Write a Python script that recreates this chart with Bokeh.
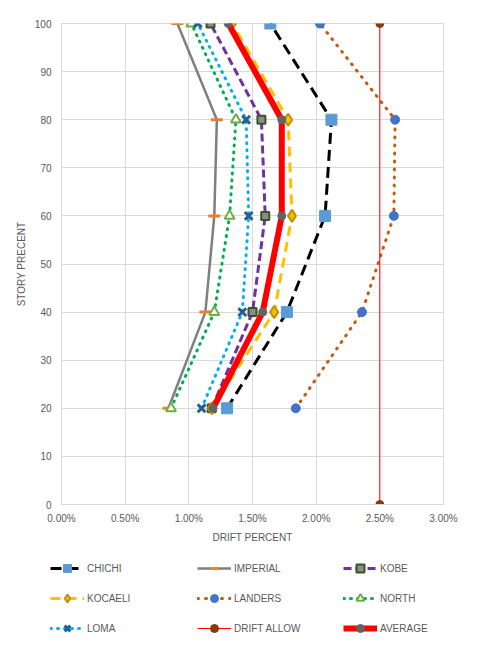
from bokeh.plotting import figure
from bokeh.layouts import column
from bokeh.models import Legend, LegendItem, PrintfTickFormatter, FixedTicker
from bokeh.embed import file_html
from bokeh.resources import INLINE

# ---- data ----
story = [20, 40, 60, 80, 100]
chichi = [1.30, 1.77, 2.07, 2.12, 1.64]
imperial = [0.84, 1.13, 1.20, 1.22, 0.91]
kobe = [1.18, 1.50, 1.60, 1.57, 1.17]
kocaeli = [1.18, 1.67, 1.81, 1.78, 1.34]
landers = [1.84, 2.36, 2.61, 2.62, 2.03]
north = [0.86, 1.20, 1.32, 1.37, 1.02]
loma = [1.10, 1.42, 1.47, 1.45, 1.07]
drift_story = [0, 100]
drift_allow = [2.5, 2.5]
average = [1.19, 1.58, 1.73, 1.73, 1.31]

x_ticks = [0.0, 0.5, 1.0, 1.5, 2.0, 2.5, 3.0]
y_ticks = [0, 10, 20, 30, 40, 50, 60, 70, 80, 90, 100]

FONT = "Liberation Sans"
TXT = "#595959"
GRID = "#d9d9d9"

p = figure(width=463, height=546, x_range=(0, 3), y_range=(0, 100),
           output_backend="svg", toolbar_location=None, frame_align=False,
           min_border_left=61, min_border_right=20, min_border_top=23, min_border_bottom=42)
p.outline_line_color = GRID
p.xgrid.grid_line_color = GRID
p.ygrid.grid_line_color = GRID
p.xaxis.ticker = FixedTicker(ticks=x_ticks)
p.yaxis.ticker = FixedTicker(ticks=y_ticks)
p.xaxis.formatter = PrintfTickFormatter(format="%.2f%%")
for ax in (p.xaxis[0], p.yaxis[0]):
    ax.major_tick_line_color = None
    ax.minor_tick_line_color = None
    ax.major_tick_out = 0
    ax.major_tick_in = 0
    ax.minor_tick_out = 0
    ax.minor_tick_in = 0
    ax.major_label_text_font = FONT
    ax.major_label_text_font_size = "10px"
    ax.major_label_text_color = TXT
    ax.axis_label_text_font = FONT
    ax.axis_label_text_font_size = "10px"
    ax.axis_label_text_color = TXT
    ax.axis_label_text_font_style = "normal"
p.xaxis.axis_line_color = GRID
p.yaxis.axis_line_color = None
p.xaxis.axis_label = "DRIFT PERCENT"
p.yaxis.axis_label = "STORY PRECENT"
p.xaxis.major_label_standoff = 8
p.yaxis.major_label_standoff = 10
p.xaxis.axis_label_standoff = 5
p.yaxis.axis_label_standoff = 5

# legend strip below the chart (its view range hides the sample glyphs' data)
lf = figure(width=463, height=87, x_range=(10, 11), y_range=(-2, -1),
            output_backend="svg", toolbar_location=None, frame_align=False,
            min_border_left=0, min_border_right=0, min_border_top=0, min_border_bottom=0)
lf.axis.visible = False
lf.grid.visible = False
lf.outline_line_color = None

items = {}

def series(name, xs, ys, lcolor, lw, dash, marker, msize, mfill, mline, mlw=1, cap="butt"):
    lkw = dict(line_color=lcolor, line_width=lw, line_dash=dash, line_cap=cap)
    mkw = dict(marker=marker, size=msize, fill_color=mfill, line_color=mline, line_width=mlw)
    p.line(xs, ys, **lkw)
    p.scatter(xs, ys, **mkw)
    a = lf.line(xs, ys, **lkw)
    b = lf.scatter(xs, ys, **mkw)
    items[name] = LegendItem(label=name, renderers=[a, b])

series("CHICHI", chichi, story, "black", 3, "11 6", "square", 11, "#5B9BD5", "#5B9BD5")
series("IMPERIAL", imperial, story, "#7F7F7F", 2.5, "solid", "dash", 12, "#ED7D31", "#ED7D31", 3)
series("KOBE", kobe, story, "#7030A0", 3, "8 4", "square", 8, "#8c8c8c", "#375623", 2)
series("KOCAELI", kocaeli, story, "#FFC000", 3, "10 6", "diamond", 12, "#FFC000", "#BF9000", 2)
series("LANDERS", landers, story, "#C55A11", 3, "1 7", "circle", 9, "#4472C4", "#4472C4", 1, "round")
series("NORTH", north, story, "#00B050", 3, "1 6", "triangle", 10, "white", "#70AD47", 2, "round")
series("LOMA", loma, story, "#00B0F0", 3, "1 6", "x", 11, "#255E91", "#255E91", 3, "round")
series("DRIFT ALLOW", drift_allow, drift_story, "#FF0000", 1, "solid", "circle", 8, "#843C0C", "#843C0C")
series("AVERAGE", average, story, "#FF0000", 6, "solid", "circle", 8, "#636363", "#636363")

cols = [["CHICHI", "KOCAELI", "LOMA"], ["IMPERIAL", "LANDERS", "DRIFT ALLOW"], ["KOBE", "NORTH", "AVERAGE"]]
xs_loc = [50, 197, 343]
for names, xl in zip(cols, xs_loc):
    lg = Legend(items=[items[n] for n in names], location=(xl, -5),
                orientation="vertical", glyph_width=34, glyph_height=20,
                label_height=12, spacing=10, padding=0, margin=0, label_standoff=3,
                border_line_color=None, background_fill_alpha=0,
                label_text_font=FONT, label_text_font_size="10px", label_text_color=TXT)
    lf.add_layout(lg, "center")

layout = column(p, lf, spacing=0)
open("out.html", "w").write(file_html(layout, INLINE))
